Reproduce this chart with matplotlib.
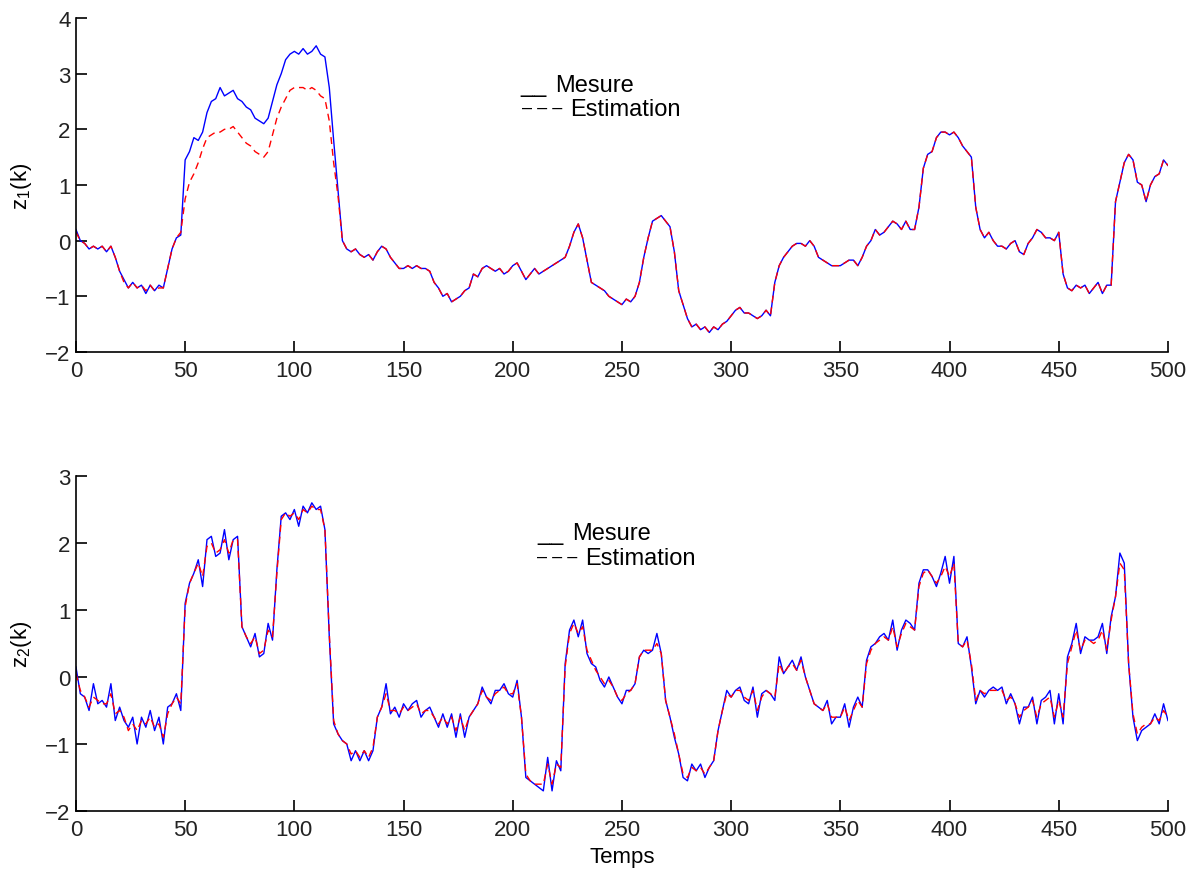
import numpy as np
import matplotlib
matplotlib.use('Agg')
import matplotlib.pyplot as plt

plt.rcParams['font.family'] = ['Liberation Sans', 'DejaVu Sans']
plt.rcParams['mathtext.fontset'] = 'custom'
plt.rcParams['mathtext.rm'] = 'Liberation Sans'
plt.rcParams['mathtext.it'] = 'Liberation Sans'
plt.rcParams['mathtext.default'] = 'regular'

# sample index, one value read every 2 steps
temps = np.arange(0, 501, 2)

# top panel, z1(k)
z1_mesure = [
    0.2, 0.0, -0.05, -0.15, -0.1, -0.15, -0.1, -0.2, -0.1, -0.3,
    -0.55, -0.7, -0.85, -0.75, -0.85, -0.8, -0.95, -0.8, -0.9, -0.8,
    -0.85, -0.5, -0.15, 0.05, 0.1, 1.45, 1.6, 1.85, 1.8, 1.95,
    2.3, 2.5, 2.55, 2.75, 2.6, 2.65, 2.7, 2.55, 2.5, 2.4,
    2.35, 2.2, 2.15, 2.1, 2.2, 2.5, 2.8, 3.0, 3.25, 3.35,
    3.4, 3.35, 3.45, 3.35, 3.4, 3.5, 3.35, 3.3, 2.75, 1.8,
    0.9, 0.0, -0.15, -0.2, -0.15, -0.25, -0.3, -0.25, -0.35, -0.2,
    -0.1, -0.15, -0.3, -0.4, -0.5, -0.5, -0.45, -0.5, -0.45, -0.5,
    -0.5, -0.55, -0.75, -0.85, -1.0, -0.95, -1.1, -1.05, -1.0, -0.9,
    -0.85, -0.6, -0.65, -0.5, -0.45, -0.5, -0.55, -0.5, -0.6, -0.55,
    -0.45, -0.4, -0.55, -0.7, -0.6, -0.5, -0.6, -0.55, -0.5, -0.45,
    -0.4, -0.35, -0.3, -0.1, 0.15, 0.3, 0.05, -0.35, -0.75, -0.8,
    -0.85, -0.9, -1.0, -1.05, -1.1, -1.15, -1.05, -1.1, -1.0, -0.75,
    -0.3, 0.05, 0.35, 0.4, 0.45, 0.35, 0.25, -0.2, -0.9, -1.15,
    -1.4, -1.55, -1.5, -1.6, -1.55, -1.65, -1.55, -1.6, -1.5, -1.45,
    -1.35, -1.25, -1.2, -1.3, -1.3, -1.35, -1.4, -1.35, -1.25, -1.35,
    -0.75, -0.45, -0.3, -0.2, -0.1, -0.05, -0.05, -0.1, 0.0, -0.1,
    -0.3, -0.35, -0.4, -0.45, -0.45, -0.45, -0.4, -0.35, -0.35, -0.45,
    -0.3, -0.1, 0.0, 0.2, 0.1, 0.15, 0.25, 0.35, 0.3, 0.2,
    0.35, 0.2, 0.2, 0.6, 1.3, 1.55, 1.6, 1.85, 1.95, 1.95,
    1.9, 1.95, 1.85, 1.7, 1.6, 1.5, 0.6, 0.2, 0.05, 0.15,
    0.0, -0.1, -0.1, -0.15, -0.05, 0.0, -0.2, -0.25, -0.05, 0.05,
    0.2, 0.15, 0.05, 0.05, 0.0, 0.15, -0.6, -0.85, -0.9, -0.8,
    -0.85, -0.8, -0.95, -0.85, -0.75, -0.95, -0.8, -0.8, 0.7, 1.05,
    1.4, 1.55, 1.45, 1.05, 1.0, 0.7, 1.0, 1.15, 1.2, 1.45,
    1.35]
z1_estim = [
    0.15, 0.0, -0.05, -0.15, -0.1, -0.15, -0.1, -0.2, -0.1, -0.3,
    -0.55, -0.75, -0.85, -0.75, -0.85, -0.8, -0.9, -0.8, -0.9, -0.85,
    -0.85, -0.5, -0.15, 0.05, 0.15, 0.75, 1.05, 1.2, 1.4, 1.65,
    1.85, 1.9, 1.95, 1.95, 2.0, 2.0, 2.05, 1.95, 1.85, 1.75,
    1.7, 1.6, 1.55, 1.5, 1.6, 1.9, 2.2, 2.4, 2.55, 2.7,
    2.75, 2.75, 2.75, 2.7, 2.75, 2.7, 2.6, 2.55, 2.15, 1.4,
    0.8, 0.0, -0.15, -0.2, -0.15, -0.25, -0.3, -0.25, -0.35, -0.2,
    -0.1, -0.15, -0.3, -0.4, -0.5, -0.5, -0.45, -0.5, -0.45, -0.5,
    -0.5, -0.55, -0.75, -0.85, -1.0, -0.95, -1.1, -1.05, -1.0, -0.9,
    -0.85, -0.6, -0.65, -0.5, -0.45, -0.5, -0.55, -0.5, -0.6, -0.55,
    -0.45, -0.4, -0.55, -0.7, -0.6, -0.5, -0.6, -0.55, -0.5, -0.45,
    -0.4, -0.35, -0.3, -0.1, 0.15, 0.3, 0.05, -0.35, -0.75, -0.8,
    -0.85, -0.9, -1.0, -1.05, -1.1, -1.15, -1.05, -1.1, -1.0, -0.75,
    -0.3, 0.05, 0.35, 0.4, 0.45, 0.35, 0.25, -0.2, -0.9, -1.15,
    -1.4, -1.55, -1.5, -1.6, -1.55, -1.65, -1.55, -1.6, -1.5, -1.45,
    -1.35, -1.25, -1.2, -1.3, -1.3, -1.35, -1.4, -1.35, -1.25, -1.35,
    -0.75, -0.45, -0.3, -0.2, -0.1, -0.05, -0.05, -0.1, 0.0, -0.1,
    -0.3, -0.35, -0.4, -0.45, -0.45, -0.45, -0.4, -0.35, -0.35, -0.45,
    -0.3, -0.1, 0.0, 0.2, 0.1, 0.15, 0.25, 0.35, 0.3, 0.2,
    0.35, 0.2, 0.2, 0.6, 1.3, 1.55, 1.6, 1.85, 1.95, 1.95,
    1.9, 1.95, 1.85, 1.7, 1.6, 1.5, 0.6, 0.2, 0.05, 0.15,
    0.0, -0.1, -0.1, -0.15, -0.05, 0.0, -0.2, -0.25, -0.05, 0.05,
    0.2, 0.15, 0.05, 0.05, 0.0, 0.15, -0.6, -0.85, -0.9, -0.8,
    -0.85, -0.8, -0.95, -0.85, -0.75, -0.95, -0.8, -0.8, 0.7, 1.05,
    1.4, 1.55, 1.45, 1.05, 1.0, 0.7, 1.0, 1.15, 1.2, 1.45,
    1.35]

# bottom panel, z2(k)
z2_mesure = [
    0.15, -0.25, -0.3, -0.5, -0.1, -0.4, -0.35, -0.45, -0.1, -0.65,
    -0.45, -0.65, -0.75, -0.6, -1.0, -0.6, -0.75, -0.5, -0.8, -0.6,
    -1.0, -0.45, -0.4, -0.25, -0.5, 1.1, 1.4, 1.55, 1.75, 1.35,
    2.05, 2.1, 1.8, 1.85, 2.2, 1.75, 2.05, 2.1, 0.75, 0.6,
    0.45, 0.65, 0.3, 0.35, 0.8, 0.55, 1.6, 2.4, 2.45, 2.35,
    2.5, 2.25, 2.55, 2.45, 2.6, 2.5, 2.55, 2.2, 0.6, -0.7,
    -0.85, -0.95, -1.0, -1.25, -1.1, -1.25, -1.1, -1.25, -1.1, -0.6,
    -0.45, -0.1, -0.55, -0.45, -0.6, -0.4, -0.5, -0.4, -0.35, -0.6,
    -0.5, -0.45, -0.6, -0.75, -0.55, -0.75, -0.55, -0.9, -0.55, -0.9,
    -0.6, -0.5, -0.4, -0.15, -0.3, -0.4, -0.2, -0.2, -0.1, -0.25,
    -0.3, -0.05, -0.6, -1.5, -1.55, -1.6, -1.65, -1.7, -1.2, -1.7,
    -1.25, -1.4, 0.2, 0.7, 0.85, 0.6, 0.85, 0.35, 0.2, 0.15,
    -0.05, -0.15, 0.0, -0.15, -0.3, -0.4, -0.2, -0.2, -0.1, 0.3,
    0.4, 0.35, 0.4, 0.65, 0.35, -0.35, -0.6, -0.9, -1.15, -1.5,
    -1.55, -1.3, -1.4, -1.3, -1.5, -1.35, -1.25, -0.8, -0.5, -0.2,
    -0.3, -0.2, -0.15, -0.35, -0.4, -0.15, -0.6, -0.25, -0.2, -0.25,
    -0.35, 0.3, 0.05, 0.15, 0.25, 0.1, 0.3, 0.0, -0.2, -0.4,
    -0.45, -0.5, -0.35, -0.7, -0.6, -0.6, -0.4, -0.75, -0.45, -0.3,
    -0.45, 0.25, 0.45, 0.5, 0.6, 0.65, 0.55, 0.85, 0.4, 0.7,
    0.85, 0.8, 0.7, 1.4, 1.6, 1.6, 1.5, 1.35, 1.55, 1.8,
    1.4, 1.8, 0.5, 0.45, 0.6, 0.15, -0.4, -0.2, -0.3, -0.2,
    -0.15, -0.2, -0.15, -0.4, -0.25, -0.4, -0.7, -0.45, -0.45, -0.3,
    -0.7, -0.35, -0.3, -0.2, -0.7, -0.25, -0.7, 0.3, 0.5, 0.8,
    0.35, 0.6, 0.55, 0.55, 0.6, 0.8, 0.35, 0.9, 1.2, 1.85,
    1.7, 0.2, -0.6, -0.95, -0.8, -0.75, -0.7, -0.55, -0.7, -0.4,
    -0.65]
z2_estim = [
    0.05, -0.2, -0.3, -0.45, -0.3, -0.35, -0.4, -0.4, -0.25, -0.55,
    -0.5, -0.6, -0.8, -0.7, -0.8, -0.65, -0.7, -0.6, -0.75, -0.7,
    -0.9, -0.55, -0.4, -0.3, -0.4, 1.05, 1.4, 1.55, 1.7, 1.5,
    1.95, 2.0, 1.85, 1.9, 2.05, 1.85, 2.05, 2.05, 0.75, 0.6,
    0.5, 0.6, 0.35, 0.4, 0.7, 0.6, 1.55, 2.35, 2.45, 2.4,
    2.45, 2.35, 2.5, 2.45, 2.55, 2.5, 2.5, 2.2, 0.65, -0.65,
    -0.85, -0.95, -1.0, -1.15, -1.1, -1.2, -1.1, -1.2, -1.05, -0.6,
    -0.45, -0.25, -0.5, -0.5, -0.55, -0.45, -0.5, -0.45, -0.4, -0.55,
    -0.5, -0.5, -0.6, -0.7, -0.6, -0.7, -0.6, -0.8, -0.6, -0.8,
    -0.6, -0.5, -0.4, -0.2, -0.3, -0.35, -0.25, -0.2, -0.15, -0.25,
    -0.25, -0.1, -0.6, -1.45, -1.55, -1.6, -1.6, -1.6, -1.3, -1.6,
    -1.3, -1.35, 0.15, 0.65, 0.8, 0.65, 0.75, 0.4, 0.25, 0.1,
    0.0, -0.1, -0.05, -0.15, -0.3, -0.35, -0.25, -0.2, -0.1, 0.3,
    0.4, 0.4, 0.4, 0.5, 0.35, -0.35, -0.6, -0.85, -1.15, -1.45,
    -1.5, -1.35, -1.4, -1.35, -1.45, -1.35, -1.25, -0.8, -0.5, -0.25,
    -0.3, -0.2, -0.2, -0.3, -0.35, -0.2, -0.5, -0.3, -0.2, -0.25,
    -0.3, 0.2, 0.05, 0.15, 0.2, 0.1, 0.25, 0.0, -0.2, -0.4,
    -0.45, -0.5, -0.4, -0.6, -0.6, -0.6, -0.45, -0.65, -0.5, -0.35,
    -0.45, 0.2, 0.4, 0.5, 0.55, 0.6, 0.55, 0.75, 0.45, 0.65,
    0.8, 0.75, 0.7, 1.35, 1.55, 1.6, 1.5, 1.4, 1.5, 1.65,
    1.5, 1.7, 0.5, 0.45, 0.55, 0.2, -0.35, -0.2, -0.25, -0.2,
    -0.2, -0.2, -0.2, -0.35, -0.3, -0.4, -0.6, -0.5, -0.45, -0.35,
    -0.6, -0.4, -0.35, -0.3, -0.6, -0.35, -0.6, 0.2, 0.45, 0.7,
    0.4, 0.55, 0.55, 0.5, 0.55, 0.7, 0.4, 0.85, 1.2, 1.7,
    1.6, 0.2, -0.55, -0.85, -0.75, -0.7, -0.7, -0.6, -0.65, -0.5,
    -0.6]

xticks = np.arange(0, 501, 50)

fig = plt.figure(figsize=(11.98, 8.70), dpi=100)
ax1 = fig.add_axes([0.0634, 0.5943, 0.9115, 0.3839])
ax2 = fig.add_axes([0.0634, 0.0667, 0.9115, 0.3850])

def style(ax, ymin, ymax):
    ax.set_xlim(0, 500)
    ax.set_ylim(ymin, ymax)
    ax.set_xticks(xticks)
    ax.set_yticks(np.arange(ymin, ymax + 1, 1))
    for s in ['top', 'right']:
        ax.spines[s].set_visible(False)
    for s in ['left', 'bottom']:
        ax.spines[s].set_linewidth(1.2)
    ax.tick_params(direction='in', length=8, width=1.2, labelsize=16,
                   labelcolor='#222222')
    ax.tick_params(axis='x', pad=6)
    ax.tick_params(axis='y', pad=4)

def legende(ax, x0, y0, x1, y1):
    # MATLAB style text legend: "__ Mesure" / "--- Estimation"
    ax.text(x0, y0, '__', fontsize=17, transform=ax.transAxes)
    ax.text(x0 + 0.032, y0, 'Mesure', fontsize=17, transform=ax.transAxes)
    ax.text(x1, y1 + 0.008, '\u2013 \u2013 \u2013', fontsize=13,
            transform=ax.transAxes)
    ax.text(x1 + 0.044, y1, 'Estimation', fontsize=17, transform=ax.transAxes)

# top panel
ax1.plot(temps, z1_mesure, color='#0000ff', lw=1.0)
ax1.plot(temps, z1_estim, color='#ff0000', lw=1.0, dashes=(5, 3.5))
style(ax1, -2, 4)
ax1.set_ylabel('z$_1$(k)', fontsize=16)
ax1.yaxis.set_label_coords(-0.038, 0.5)
legende(ax1, 0.4066, 0.7814, 0.4084, 0.7096)

# bottom panel
ax2.plot(temps, z2_mesure, color='#0000ff', lw=1.0)
ax2.plot(temps, z2_estim, color='#ff0000', lw=1.0, dashes=(5, 3.5))
style(ax2, -2, 3)
ax2.set_ylabel('z$_2$(k)', fontsize=16)
ax2.yaxis.set_label_coords(-0.038, 0.5)
ax2.set_xlabel('Temps', fontsize=16, labelpad=4)
legende(ax2, 0.4222, 0.8119, 0.4222, 0.7373)

fig.savefig('out.png', dpi=100)
